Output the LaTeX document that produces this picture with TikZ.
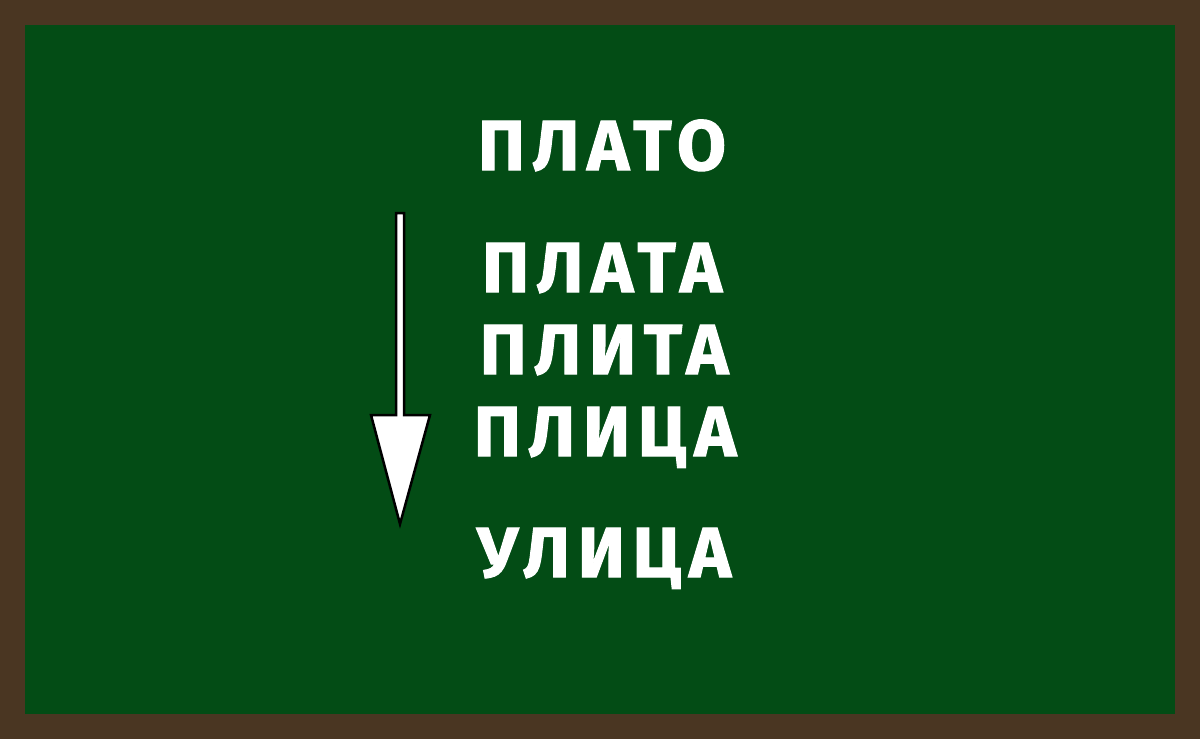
\documentclass[tikz,border=0pt]{standalone}
\usepackage{fontspec}
\setmainfont{Fira Sans}
\usepackage{tikz}
\definecolor{boardbrown}{RGB}{74,54,34}
\definecolor{boardgreen}{RGB}{3,76,21}
\begin{document}
\begin{tikzpicture}[x=1pt,y=-1pt,
word/.style={text=white, font=\fontsize{71}{71}\selectfont\bfseries\addfontfeature{LetterSpace=11,FakeBold=1.5}, anchor=base, inner sep=0pt},
pointer/.style={fill=white, draw=black, line width=2.5pt, line join=miter},
]

%Board
\fill[boardbrown] (0,0) rectangle (1200,739);
\fill[boardgreen] (25,25) rectangle (1175,714);
\useasboundingbox (0,0) rectangle (1200,739);

%Words
\node[word] (plato) at (602,170) {ПЛАТО};
\node[word] (plata) at (602,292) {ПЛАТА};
\node[word] (plita) at (604,374) {ПЛИТА};
\node[word] (plica) at (605,456) {ПЛИЦА};
\node[word] (ulica) at (604,577) {УЛИЦА};

%Arrow
\draw[pointer] (396,213) -- (404,213) -- (404,415) -- (430,415) -- (400,524)
  -- (371,415) -- (396,415) -- cycle;
\end{tikzpicture}
\end{document}
